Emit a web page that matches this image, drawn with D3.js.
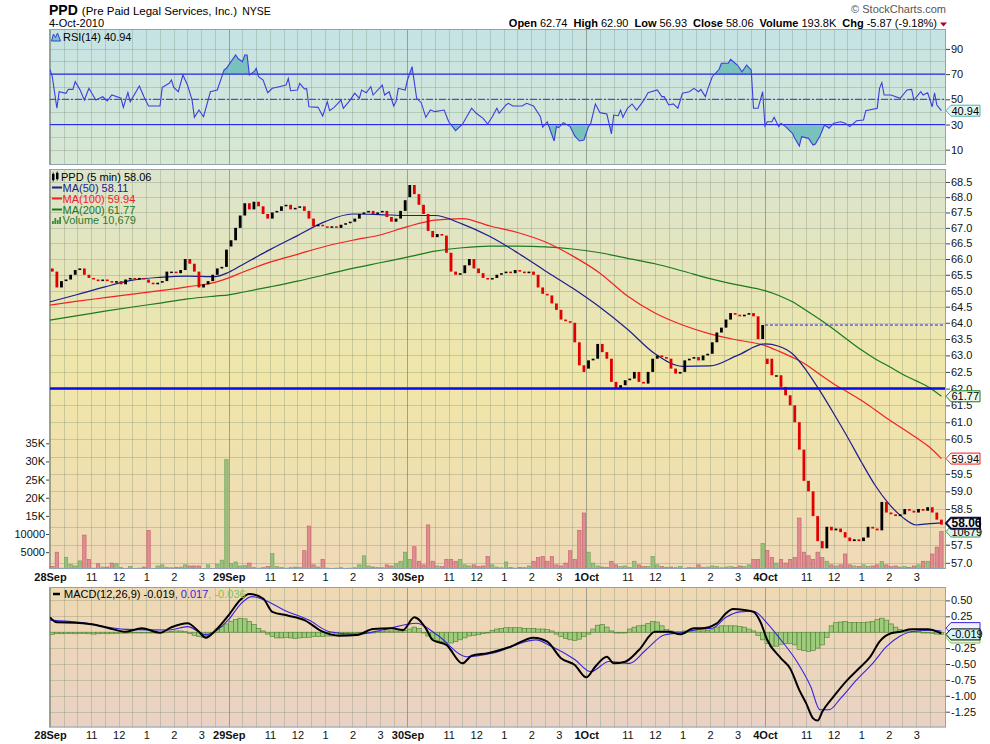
<!DOCTYPE html>
<html>
<head>
<meta charset="utf-8">
<script src="https://cdn.jsdelivr.net/npm/d3@7"></script>
<style>
  body { margin: 0; background: #fff; }
  svg text { font-family: "Liberation Sans", Arial, sans-serif; font-size: 11px; }
</style>
</head>
<body>
<svg id="chart"></svg>
<script>
// ---- data (10-minute slots, 39 per session, 5 sessions) ----
const dayLabels = ["28Sep", "29Sep", "30Sep", "1Oct", "4Oct"];
const hourLabels = ["11", "12", "1", "2", "3"];
const hourBars = [18, 30, 42, 54, 66];          // 5-min bar offsets inside a session
const dayOpen = [65.70, 66.40, 68.00, 62.60, 62.74];

const closes = [
  65.6, 65.1, 65.3, 65.35, 65.5, 65.65, 65.7, 65.5, 65.4, 65.35,
  65.3, 65.35, 65.3, 65.25, 65.3, 65.2, 65.35, 65.4, 65.35, 65.4,
  65.35, 65.25, 65.2, 65.25, 65.3, 65.6, 65.6, 65.55, 65.65, 66.0,
  65.85, 65.6, 65.1, 65.2, 65.3, 65.5, 65.7, 65.75, 66.3,
  66.6, 67.0, 67.4, 67.8, 67.6, 67.85, 67.7, 67.45, 67.3, 67.5,
  67.55, 67.7, 67.75, 67.6, 67.65, 67.7, 67.55, 67.3, 67.05, 67.1,
  67.05, 67.0, 67.05, 67.0, 67.1, 67.15, 67.2, 67.3, 67.45, 67.5,
  67.55, 67.45, 67.5, 67.55, 67.35, 67.2, 67.3, 67.55, 67.9,
  68.4, 68.1, 67.75, 67.45, 66.9, 66.7, 66.8, 66.75, 66.2, 65.6,
  65.5, 65.55, 65.8, 66.0, 65.7, 65.55, 65.4, 65.35, 65.4, 65.5,
  65.55, 65.6, 65.55, 65.65, 65.6, 65.55, 65.6, 65.5, 65.1, 64.9,
  64.85, 64.6, 64.4, 64.1, 64.05, 64.0, 63.4, 62.7, 62.5,
  62.85, 62.9, 63.35, 63.1, 62.9, 62.2, 62.0, 62.1, 62.25, 62.3,
  62.5, 62.2, 62.15, 62.5, 62.9, 63.0, 62.95, 62.9, 62.6, 62.45,
  62.5, 62.85, 62.9, 62.95, 62.85, 63.0, 63.05, 63.4, 63.7, 63.85,
  64.1, 64.3, 64.25, 64.2, 64.25, 64.3, 64.2, 63.5, 63.93,
  62.9, 62.4, 62.4, 62.05, 61.8, 61.5, 61.0, 60.2, 59.3, 59.0,
  58.3, 57.6, 57.4, 58.0, 57.9, 57.95, 57.85, 57.7, 57.6, 57.65,
  57.6, 57.7, 58.0, 57.95, 57.9, 58.7, 58.4, 58.35, 58.3, 58.35,
  58.5, 58.45, 58.4, 58.5, 58.45, 58.55, 58.4, 58.2, 58.06
];

const volumes = [
  1100, 5000, 600, 3600, 1600, 1200, 2600, 9700, 3000, 600,
  1800, 900, 900, 2000, 1800, 700, 500, 1000, 500, 600,
  900, 11000, 500, 1200, 1500, 800, 700, 800, 900, 1500,
  1200, 1200, 1200, 400, 1500, 500, 1600, 2800, 30500,
  1800, 2300, 1200, 1300, 2000, 800, 600, 700, 1000, 4600,
  1000, 800, 600, 700, 900, 800, 5400, 12200, 1500, 900,
  3000, 600, 500, 600, 700, 500, 600, 700, 1500, 4000,
  1200, 900, 800, 700, 1500, 1200, 1800, 2500, 5000,
  3000, 6500, 2500, 1500, 12500, 2500, 1200, 1000, 3000, 3000,
  2500, 3000, 1500, 1200, 1500, 1000, 1200, 3800, 1500, 900,
  700, 2300, 800, 600, 800, 700, 1200, 2500, 3500, 3800,
  2500, 3800, 1500, 1200, 2000, 5400, 3000, 11000, 15800,
  5000, 2000, 1200, 900, 800, 2500, 1500, 1000, 1200, 800,
  2500, 1500, 1000, 1000, 3800, 1500, 1000, 800, 900, 700,
  1000, 600, 800, 700, 1500, 800, 900, 1200, 1000, 700,
  900, 1000, 800, 1200, 1000, 1500, 3000, 3000, 7400,
  5500, 3500, 2000, 3000, 2000, 3000, 3500, 14400, 5000, 4000,
  3000, 5000, 3500, 2500, 1500, 1200, 1500, 4500, 1500, 1200,
  1000, 1500, 1000, 1200, 1500, 2400, 1500, 1000, 1200, 900,
  1000, 800, 1200, 1500, 2500, 2500, 4500, 6400, 10679
];

const histValues = [
  -0.035,
  -0.02, -0.025, -0.02, -0.02, -0.025, -0.02, -0.02, -0.025, -0.03, -0.025, -0.02, -0.025, -0.02, -0.02, -0.015, -0.015,
  -0.01, -0.01, -0.005, -0.01, -0.01, -0.005, 0, -0.005, 0.005,
  0.015, 0.02, 0.02, 0.01,
  -0.02, -0.05, -0.07, -0.085, -0.05,
  0.0, 0.05, 0.09, 0.13, 0.17, 0.2, 0.22, 0.21, 0.17, 0.12, 0.06, 0.02, -0.03, -0.07,
  -0.09, -0.09, -0.08, -0.09, -0.1, -0.09, -0.08, -0.08, -0.07,
  -0.07, -0.07, -0.06, -0.06, -0.05, -0.04,
  -0.03, -0.02, -0.02, -0.01, -0.01, 0, 0, 0.01, 0.01,
  0.02, 0.02, 0.02, 0.02, 0.03, 0.05,
  0.08, 0.06, 0.0, -0.06, -0.1, -0.13, -0.15, -0.16, -0.17, -0.15, -0.12, -0.09, -0.06, -0.05, -0.04, -0.02, 0.0,
  0.03, 0.05, 0.06, 0.07, 0.07, 0.07, 0.07, 0.06, 0.06, 0.06, 0.05, 0.05, 0.04, 0.02,
  -0.03, -0.07, -0.1, -0.12, -0.13, -0.11, -0.07, -0.03, 0.05, 0.11, 0.12, 0.08, 0.02, 0.0, -0.01, 0.0, 0.05, 0.08, 0.1, 0.11, 0.14, 0.17, 0.16, 0.1, 0.04,
  0.02, 0.01, 0.01, 0.02, 0.02, 0.02, 0.02, 0.02, 0.03, 0.05,
  0.08, 0.1, 0.1, 0.1, 0.1, 0.09, 0.08, 0.05, 0.02,
  -0.05, -0.12, -0.18, -0.22, -0.22, -0.19, -0.18, -0.18, -0.2, -0.27, -0.29, -0.3, -0.29, -0.25, -0.2, -0.08,
  0.1, 0.15, 0.16, 0.17, 0.15, 0.15, 0.15, 0.15, 0.16, 0.17, 0.2, 0.22, 0.19, 0.13, 0.08, 0.04, 0.02, 0.02, 0.01, 0.01, 0.0, -0.01, -0.02, -0.03, -0.036
];

// moving averages, read at these 5-min bar indices
const maBars = [0, 12, 24, 36, 48, 60, 72, 78, 84, 96, 108, 120, 132, 144, 156, 168, 180, 192, 204, 216,
  228, 240, 252, 264, 276, 288, 300, 312, 318, 324, 330, 336, 342, 348, 354, 360, 366, 372, 378, 384, 389];
const ma50 = [64.65, 64.88, 65.12, 65.33, 65.42, 65.46, 65.44, 65.58, 65.82, 66.3, 66.75, 67.2, 67.45, 67.43, 67.4, 67.4,
  67.12, 66.72, 66.2, 65.63, 65.08, 64.48, 63.8, 63.05, 62.67, 62.68, 63.0, 63.35, 63.28, 63.05, 62.55, 61.93, 61.26,
  60.57, 59.85, 59.18, 58.65, 58.27, 58.05, 58.09, 58.11];
const ma100 = [64.55, 64.67, 64.78, 64.89, 65.0, 65.12, 65.26, 65.4, 65.58, 65.9, 66.15, 66.4, 66.6, 66.77, 67.04, 67.25,
  67.3, 67.06, 66.85, 66.55, 66.1, 65.55, 64.83, 64.3, 63.93, 63.66, 63.47, 63.3, 63.13, 62.94, 62.72, 62.42, 62.14,
  61.9, 61.65, 61.37, 61.08, 60.82, 60.55, 60.26, 59.94];
const ma200 = [64.08, 64.22, 64.36, 64.49, 64.61, 64.74, 64.83, 64.87, 64.95, 65.12, 65.3, 65.5, 65.7, 65.88, 66.06, 66.25,
  66.36, 66.41, 66.41, 66.39, 66.32, 66.2, 66.02, 65.85, 65.62, 65.38, 65.18, 65.0, 64.85, 64.65, 64.38, 64.1, 63.8,
  63.48, 63.17, 62.9, 62.67, 62.43, 62.23, 62.02, 61.77];

const rsiBars = [0, 1, 3, 4, 7, 8, 10, 11, 13, 15, 17, 20, 23, 25, 27, 31, 32, 34, 35, 39, 41, 43, 48, 49, 52, 53, 54, 56, 58, 60,
  62, 63, 65, 67, 70, 73, 76, 77, 81, 82, 84, 85, 86, 87, 89, 90, 91, 93, 95, 97, 100, 103, 104, 105, 108, 109, 111, 112, 113,
  117, 119, 121, 122, 124, 127, 128, 131, 133, 135, 136, 138, 140, 141, 145, 146, 148, 150, 151, 152, 155, 156, 158, 160,
  162, 164, 166, 168, 172, 174, 177, 180, 184, 186, 189, 191, 193, 195, 196, 199, 200, 202, 206, 208, 211, 214, 215, 217,
  218, 220, 221, 222, 224, 227, 229, 231, 233, 235, 236, 238, 240, 243, 245, 246, 248, 249, 250, 252, 254, 256, 259, 261,
  265, 267, 268, 270, 272, 274, 276, 279, 281, 283, 284, 286, 287, 289, 292, 293, 296, 297, 299, 300, 302, 304, 306, 307,
  309, 311, 312, 313, 315, 316, 318, 319, 321, 324, 325, 327, 328, 331, 333, 334, 336, 338, 340, 342, 345, 347, 349, 352,
  355, 356, 361, 362, 363, 364, 367, 371, 374, 376, 377, 380, 381, 383, 385, 386, 387, 389];
const rsiValues = [73.8, 68, 42.9, 56, 54.8, 57.9, 57.9, 64, 57.9, 49.4, 58.7, 49.4, 52, 48.7, 53.4, 50.8, 43.6, 55.3, 48.1,
  60.6, 52, 44.7, 44.7, 59.5, 62.7, 65.3, 59.5, 56, 69.3, 61.3, 49.4, 35.7, 41.5, 36.2, 56, 57.4, 73.3, 74.6, 85.2, 82.5,
  79.8, 85.2, 85.2, 69.3, 71.9, 74.6, 67.9, 65.3, 55.2, 58.7, 60, 61.3, 66.6, 56.8, 57.4, 62.7, 58.2, 58.5, 44.1, 43.6,
  36.7, 48.1, 41, 43.6, 49.4, 42.9, 49.4, 54.8, 50.8, 57.4, 55.2, 60, 53.4, 61.3, 53.4, 56, 44.7, 48.1, 58.7, 57.4, 65.3,
  75.9, 50.8, 47.3, 35.7, 41.5, 40.2, 41.5, 32.2, 25.1, 30.2, 42.9, 38.9, 34.9, 30.4, 36.2, 42.9, 38.9, 45.5, 46.8, 44.7,
  44.7, 46.8, 44.7, 36.2, 27.8, 32.2, 27, 16.9, 28.3, 27.5, 31.5, 28.3, 20.9, 16.9, 17.7, 28.3, 31, 46.3, 39.4, 38.3,
  22.5, 37.5, 37, 41.5, 35.7, 42.9, 46.3, 41.5, 48.9, 55.2, 57.4, 52.1, 52.1, 45.5, 46.3, 42.9, 54.8, 56, 58.7, 56, 57.9,
  52.1, 57.9, 67.9, 73.8, 78.6, 78.6, 81.7, 78.6, 77.2, 71.9, 77.2, 73.3, 42.9, 42.9, 56, 28.8, 32.2, 32.2, 35.7, 28.3,
  31, 28.3, 23, 19, 12.9, 20.3, 19, 13.7, 14.5, 20.9, 29.6, 27, 31, 32.2, 31, 28.3, 33, 33.6, 41, 42.9, 58.7, 63.2, 53.4,
  53.4, 50.8, 57.4, 57.9, 49.4, 56, 53.4, 55.2, 44.1, 55.2, 45.5, 40.94];

const macdBars = [0, 3, 11, 18, 25, 33, 40, 48, 53, 60, 65, 68, 72, 78, 83, 87, 93, 97, 104, 111, 119, 126, 134, 141, 149,
  154, 159, 164, 167, 173, 180, 184, 191, 201, 211, 217, 223, 229, 234, 238, 243, 246, 251, 257, 264, 270, 275, 281, 284,
  291, 295, 298, 303, 307, 310, 313, 319, 323, 327, 330, 333, 335, 337, 342, 348, 353, 358, 362, 367, 371, 376, 383, 389];
const macdValues = [0.234, 0.156, 0.15, 0.124, 0.071, 0.008, 0.061, -0.008, 0.077, 0.14, 0.008, -0.086, 0.019, 0.27, 0.506,
  0.6, 0.53, 0.32, 0.26, 0.19, 0.008, -0.055, -0.044, 0.05, 0.061, 0.035, 0.234, 0.061, -0.123, -0.2, -0.49, -0.37, -0.33,
  -0.228, -0.086, -0.149, -0.41, -0.516, -0.71, -0.54, -0.385, -0.49, -0.464, -0.28, 0.008, 0.008, -0.033, 0.061, 0.061,
  0.14, 0.297, 0.365, 0.35, 0.32, 0.165, -0.123, -0.41, -0.57, -0.91, -1.12, -1.355, -1.39, -1.25, -1.01, -0.75, -0.57,
  -0.385, -0.149, -0.017, 0.008, 0.046, 0.046, -0.019];
const signalBars = [0, 14, 33, 52, 60, 68, 78, 83, 88, 94, 102, 113, 122, 134, 145, 160, 169, 182, 193, 212, 219, 229, 236,
  244, 253, 260, 268, 275, 283, 289, 295, 301, 307, 313, 319, 326, 332, 336, 340, 345, 352, 359, 365, 371, 378, 385, 389];
const signalValues = [0.19, 0.15, 0.045, 0.035, 0.087, -0.04, 0.2, 0.435, 0.56, 0.5, 0.35, 0.19, 0.008, -0.033, 0.035, 0.14,
  -0.044, -0.385, -0.33, -0.12, -0.226, -0.43, -0.62, -0.46, -0.49, -0.28, -0.044, -0.008, 0.045, 0.061, 0.234, 0.32,
  0.33, 0.14, -0.123, -0.464, -0.857, -1.22, -1.22, -1.04, -0.75, -0.49, -0.228, -0.06, 0.019, 0.03, 0.017];

const priceTicks = [57.0, 57.5, 58.0, 58.5, 59.0, 59.5, 60.0, 60.5, 61.0, 61.5, 62.0, 62.5, 63.0, 63.5, 64.0,
  64.5, 65.0, 65.5, 66.0, 66.5, 67.0, 67.5, 68.0, 68.5];
const volumeTicks = [5000, 10000, 15000, 20000, 25000, 30000, 35000];
const volumeTickLabels = ["5000", "10000", "15K", "20K", "25K", "30K", "35K"];
const rsiTicks = [90, 70, 50, 30, 10];
const rsiGrid = [10, 20, 30, 40, 50, 60, 70, 80, 90];
const macdTicks = [0.5, 0.25, -0.25, -0.5, -0.75, -1.0, -1.25];
const macdGrid = [0.5, 0.25, 0, -0.25, -0.5, -0.75, -1.0, -1.25];

const supportLevel = 62.0;
const prevClose = 63.93;
const lastPrice = 58.06, lastVolume = 10679, lastRsi = 40.94;
const lastMacd = -0.019, lastSignal = 0.017, lastHist = -0.036;
const quote = [["Open", "62.74"], ["High", "62.90"], ["Low", "56.93"], ["Close", "58.06"], ["Volume", "193.8K"], ["Chg", "-5.87 (-9.18%)"]];

// ---- layout ----
const plotL = 49, plotR = 946;
const rsiP = [29, 165], mainP = [169, 569], macdP = [587, 727.5];
const slotsPerDay = 39, barsPerDay = 78;

const svg = d3.select("#chart").attr("width", 990).attr("height", 744);

const x = d3.scaleLinear().domain([0, 390]).range([50, 943.7]);
const yPrice = d3.scaleLog().domain([56.83, 68.93]).range([569, 169]);
const yVol = d3.scaleLinear().domain([0, 35000]).range([570.3, 443.3]);
const yRsi = d3.scaleLinear().domain([0, 100]).range([162.3, 36.3]);
const yMacd = d3.scaleLinear().domain([-1.5, 0.75]).range([727.6, 584.5]);

const defs = svg.append("defs");
function gradient(id, stops) {
  const g = defs.append("linearGradient").attr("id", id).attr("x1", 0).attr("x2", 0).attr("y1", 0).attr("y2", 1);
  stops.forEach(s => g.append("stop").attr("offset", s[0]).attr("stop-color", s[1]));
}
gradient("gRsi", [[0, "#c5e3e4"], [1, "#d8e8d2"]]);
gradient("gMain", [[0, "#dbe4cd"], [0.52, "#f0e6a8"], [1, "#eedab8"]]);
gradient("gMacd", [[0, "#efd9b2"], [1, "#e9d2c4"]]);

function clip(id, p) {
  defs.append("clipPath").attr("id", id).append("rect")
    .attr("x", plotL).attr("y", p[0]).attr("width", plotR - plotL).attr("height", p[1] - p[0]);
}
clip("cRsi", rsiP); clip("cMain", mainP); clip("cMacd", macdP);

const gridBars = d3.range(0, 390, 6);
function panel(p, grad, yScale, levels) {
  svg.append("rect").attr("x", plotL).attr("y", p[0]).attr("width", plotR - plotL).attr("height", p[1] - p[0])
    .attr("fill", `url(#${grad})`);
  const g = svg.append("g");
  g.selectAll(".h").data(levels).join("line")
    .attr("x1", plotL).attr("x2", plotR)
    .attr("y1", d => Math.round(yScale(d)) + 0.5).attr("y2", d => Math.round(yScale(d)) + 0.5)
    .attr("stroke", "rgba(105,125,105,0.28)");
  g.selectAll(".v").data(gridBars).join("line")
    .attr("x1", d => Math.round(x(d)) + 0.5).attr("x2", d => Math.round(x(d)) + 0.5)
    .attr("y1", p[0]).attr("y2", p[1])
    .attr("stroke", d => d % barsPerDay === 0 ? "rgba(95,110,95,0.55)" : "rgba(105,125,105,0.28)");
}
panel(rsiP, "gRsi", yRsi, rsiGrid);
panel(mainP, "gMain", yPrice, priceTicks);
panel(macdP, "gMacd", yMacd, macdGrid);

// ---- candles / volume ----
const slots = closes.map((c, j) => {
  const prev = j === 0 ? dayOpen[0] : closes[j - 1];
  const open = j % slotsPerDay === 0 ? dayOpen[j / slotsPerDay] : prev;
  return { bar: 2 * j + 1, open, close: c, up: c >= prev, vol: volumes[j], hist: histValues[j] };
});

const gMain = svg.append("g").attr("clip-path", "url(#cMain)");
gMain.selectAll(".vol").data(slots).join("rect")
  .attr("x", d => x(d.bar) - 1.7).attr("width", 3.4)
  .attr("y", d => yVol(d.vol)).attr("height", d => yVol(0) - yVol(d.vol))
  .attr("fill", d => d.up ? "#98c27c" : "#df8d92")
  .attr("stroke", d => d.up ? "#6f9d58" : "#c55a66").attr("stroke-width", 0.6);

svg.append("line").attr("x1", plotL).attr("x2", plotR)
  .attr("y1", yPrice(supportLevel)).attr("y2", yPrice(supportLevel))
  .attr("stroke", "#0a0af0").attr("stroke-width", 2.5);
svg.append("line").attr("x1", x(4 * barsPerDay)).attr("x2", plotR)
  .attr("y1", yPrice(prevClose)).attr("y2", yPrice(prevClose))
  .attr("stroke", "#2424ff").attr("stroke-dasharray", "3,2");

const maLine = d3.line().x((d, i) => x(maBars[i])).y(d => yPrice(d)).curve(d3.curveMonotoneX);
[[ma200, "#1b7a1b"], [ma100, "#f22222"], [ma50, "#1c1c8e"]].forEach(([s, c]) => {
  gMain.append("path").attr("d", maLine(s)).attr("fill", "none").attr("stroke", c).attr("stroke-width", 1.2);
});

gMain.selectAll(".candle").data(slots).join("rect")
  .attr("x", d => x(d.bar) - 1.4).attr("width", 2.8)
  .attr("y", d => yPrice(Math.max(d.open, d.close)))
  .attr("height", d => Math.max(1.5, Math.abs(yPrice(d.open) - yPrice(d.close))))
  .attr("fill", d => d.up ? "#000" : "#e00000");

// ---- RSI ----
const gRsi = svg.append("g").attr("clip-path", "url(#cRsi)");
const rsiPts = rsiValues.map((v, i) => ({ bar: rsiBars[i], v }));
defs.append("clipPath").attr("id", "cOver").append("rect")
  .attr("x", plotL).attr("y", rsiP[0]).attr("width", plotR - plotL).attr("height", yRsi(70) - rsiP[0]);
defs.append("clipPath").attr("id", "cUnder").append("rect")
  .attr("x", plotL).attr("y", yRsi(30)).attr("width", plotR - plotL).attr("height", rsiP[1] - yRsi(30));
const areaAt = lvl => d3.area().x(d => x(d.bar)).y0(yRsi(lvl)).y1(d => yRsi(d.v));
gRsi.append("path").attr("d", areaAt(70)(rsiPts)).attr("fill", "#79c1bd").attr("clip-path", "url(#cOver)");
gRsi.append("path").attr("d", areaAt(30)(rsiPts)).attr("fill", "#79c1bd").attr("clip-path", "url(#cUnder)");
[70, 30].forEach(l => gRsi.append("line").attr("x1", plotL).attr("x2", plotR)
  .attr("y1", yRsi(l)).attr("y2", yRsi(l)).attr("stroke", "#2b2be6").attr("stroke-width", 1.2));
gRsi.append("line").attr("x1", plotL).attr("x2", plotR).attr("y1", yRsi(50)).attr("y2", yRsi(50))
  .attr("stroke", "#3030d8").attr("stroke-dasharray", "7,2,2,2");
gRsi.append("path").attr("d", d3.line().x(d => x(d.bar)).y(d => yRsi(d.v))(rsiPts))
  .attr("fill", "none").attr("stroke", "#3d3ddc").attr("stroke-width", 1.1);

// ---- MACD ----
const gMacd = svg.append("g").attr("clip-path", "url(#cMacd)");
gMacd.selectAll(".hist").data(slots).join("rect")
  .attr("x", d => x(d.bar) - 2.29).attr("width", 4.58)
  .attr("y", d => yMacd(Math.max(0, d.hist)))
  .attr("height", d => Math.max(0.8, Math.abs(yMacd(d.hist) - yMacd(0))))
  .attr("fill", "#9fcc7c").attr("stroke", "#4d7d31").attr("stroke-width", 0.6);
const sigLine = d3.line().x((d, i) => x(signalBars[i])).y(d => yMacd(d)).curve(d3.curveMonotoneX);
const macdLine = d3.line().x((d, i) => x(macdBars[i])).y(d => yMacd(d)).curve(d3.curveMonotoneX);
gMacd.append("path").attr("d", sigLine(signalValues)).attr("fill", "none").attr("stroke", "#3a22e0").attr("stroke-width", 1.1);
gMacd.append("path").attr("d", macdLine(macdValues)).attr("fill", "none").attr("stroke", "#000").attr("stroke-width", 2);

// ---- panel borders ----
[rsiP, mainP, macdP].forEach(p => svg.append("rect")
  .attr("x", plotL + 0.5).attr("y", p[0] + 0.5).attr("width", plotR - plotL - 1).attr("height", p[1] - p[0] - 1)
  .attr("fill", "none").attr("stroke", "#8ea4b2"));

// ---- axes ----
// price labels sitting under a value tag are hidden, as on the original
const mainTagY = [yPrice(ma200[ma200.length - 1]), yPrice(ma100[ma100.length - 1]), yPrice(lastPrice), yVol(lastVolume)];
const shownPriceTicks = priceTicks.filter(t => mainTagY.every(v => Math.abs(yPrice(t) - v) > 7));

function tidy(g) {
  g.attr("font-family", null).attr("font-size", null);
  g.select(".domain").remove();
  g.selectAll(".tick line").attr("stroke", "#444");
  g.selectAll(".tick text").attr("fill", "#111");
}
svg.append("g").attr("transform", `translate(${plotR},0)`)
  .call(d3.axisRight(yPrice).tickValues(shownPriceTicks).tickFormat(d3.format(".1f")).tickSize(4).tickPadding(1)).call(tidy);
svg.append("g").attr("transform", `translate(${plotR},0)`)
  .call(d3.axisRight(yRsi).tickValues(rsiTicks).tickSize(4).tickPadding(1)).call(tidy);
svg.append("g").attr("transform", `translate(${plotR},0)`)
  .call(d3.axisRight(yMacd).tickValues(macdTicks).tickFormat(d => d.toFixed(2)).tickSize(4).tickPadding(1)).call(tidy);
svg.append("g").attr("transform", `translate(${plotL},0)`)
  .call(d3.axisLeft(yVol).tickValues(volumeTicks).tickFormat((d, i) => volumeTickLabels[i]).tickSize(3).tickPadding(1)).call(tidy);

const xTicks = [];
dayLabels.forEach((d, k) => {
  xTicks.push({ bar: k * barsPerDay, label: d, day: true });
  hourBars.forEach((h, m) => xTicks.push({ bar: k * barsPerDay + h, label: hourLabels[m], day: false }));
});
[mainP[1], macdP[1]].forEach(yb => {
  const g = svg.append("g").attr("transform", `translate(0,${yb})`)
    .call(d3.axisBottom(x).tickValues(xTicks.map(t => t.bar)).tickFormat((d, i) => xTicks[i].label)
      .tickSize(0).tickPadding(4)).call(tidy);
  g.selectAll(".tick text").attr("font-weight", (d, i) => xTicks[i].day ? "bold" : null)
    .attr("dy", "0.71em");
});

// ---- value tags ----
function tag(yv, text, stroke, fill, bold, sw) {
  const x0 = plotR, h = 11, w = 34;
  svg.append("path")
    .attr("d", `M${x0},${yv} L${x0 + 5},${yv - h / 2} L${x0 + w},${yv - h / 2} L${x0 + w},${yv + h / 2} L${x0 + 5},${yv + h / 2} Z`)
    .attr("fill", fill).attr("stroke", stroke).attr("stroke-width", sw || 1);
  if (text) svg.append("text").attr("x", x0 + 5.5).attr("y", yv + 4).text(text)
    .attr("font-weight", bold ? "bold" : null).style("font-size", bold ? "12px" : "11px");
}
tag(yRsi(lastRsi), lastRsi.toFixed(2), "#4fb3ad", "#e2f5f3");
tag(yPrice(ma200[ma200.length - 1]), ma200[ma200.length - 1].toFixed(2), "#1b7a1b", "#eef7ea");
tag(yPrice(ma100[ma100.length - 1]), ma100[ma100.length - 1].toFixed(2), "#f22222", "#fff6f2");
tag(yVol(lastVolume), String(lastVolume), "#3c9a58", "#dff4ee");
tag(yPrice(lastPrice) - 1.5, lastPrice.toFixed(2), "#101040", "#f4f8ff", true, 2);
// signal and histogram tags sit behind the MACD tag
tag(yMacd(lastHist) + 3, null, "#7cc45a", "#e6f6dc");
tag(yMacd(lastSignal) - 3, null, "#3a22e0", "#eef0ff");
tag(yMacd(lastMacd) + 1, lastMacd.toFixed(3), "#000", "#d8f3f3");

// ---- legends ----
const leg = svg.append("g");
leg.append("path").attr("d", "M51.5,41 L53.5,34 L55.5,37.5 L57.5,33 L60.5,41 Z").attr("fill", "#79c1bd").attr("stroke", "#3d3ddc");
leg.append("text").attr("x", 63).attr("y", 40.5).text(`RSI(14) ${lastRsi.toFixed(2)}`);

leg.append("rect").attr("x", 52).attr("y", 174).attr("width", 2.5).attr("height", 6).attr("fill", "#000");
leg.append("rect").attr("x", 56).attr("y", 173).attr("width", 2.5).attr("height", 6).attr("fill", "#000");
leg.append("line").attr("x1", 53.2).attr("x2", 53.2).attr("y1", 172.5).attr("y2", 181.5).attr("stroke", "#000");
leg.append("line").attr("x1", 57.2).attr("x2", 57.2).attr("y1", 171.5).attr("y2", 180.5).attr("stroke", "#000");
leg.append("text").attr("x", 61).attr("y", 181).text(`PPD (5 min) ${lastPrice.toFixed(2)}`);
[["MA(50) " + ma50[ma50.length - 1].toFixed(2), "#1c1c8e", 191.5],
 ["MA(100) " + ma100[ma100.length - 1].toFixed(2), "#f22222", 202.5],
 ["MA(200) " + ma200[ma200.length - 1].toFixed(2), "#1b7a1b", 213.5]].forEach(([t, c, yb]) => {
  leg.append("line").attr("x1", 52).attr("x2", 62).attr("y1", yb - 4).attr("y2", yb - 4).attr("stroke", c).attr("stroke-width", 2);
  leg.append("text").attr("x", 62.5).attr("y", yb).attr("fill", c).text(t);
});
[3, 6, 4, 7].forEach((hh, k) => leg.append("rect").attr("x", 52 + k * 2.4).attr("y", 224 - hh)
  .attr("width", 1.8).attr("height", hh).attr("fill", "#3c8a3c"));
leg.append("text").attr("x", 62.5).attr("y", 224).attr("fill", "#2e7d2e").text(`Volume ${d3.format(",")(lastVolume)}`);

leg.append("line").attr("x1", 53).attr("x2", 60).attr("y1", 594).attr("y2", 594).attr("stroke", "#000").attr("stroke-width", 2.5);
const mt = leg.append("text").attr("x", 64).attr("y", 597.5);
mt.append("tspan").text(`MACD(12,26,9) ${lastMacd.toFixed(3)}`);
mt.append("tspan").attr("fill", "#3a22e0").text(`, ${lastSignal.toFixed(3)}`);
mt.append("tspan").attr("fill", "#7cc45a").text(`, ${lastHist.toFixed(3)}`);

// ---- header ----
const hd = svg.append("text").attr("x", 49).attr("y", 15);
hd.append("tspan").attr("font-weight", "bold").style("font-size", "14px").text("PPD");
hd.append("tspan").attr("dx", 4).style("font-size", "11.5px").text("(Pre Paid Legal Services, Inc.)");
hd.append("tspan").attr("dx", 5).style("font-size", "10.5px").text("NYSE");
svg.append("text").attr("x", 49).attr("y", 26.5).text("4-Oct-2010");
svg.append("text").attr("x", 946).attr("y", 13).attr("text-anchor", "end").attr("fill", "#555").text("© StockCharts.com");
const qt = svg.append("text").attr("x", 937).attr("y", 26.5).attr("text-anchor", "end");
quote.forEach(([k, v], i) => {
  qt.append("tspan").attr("font-weight", "bold").attr("dx", i ? 6 : 0).text(k);
  qt.append("tspan").attr("dx", 3).text(v);
});
svg.append("path").attr("d", "M940,22.5 L947,22.5 L943.5,26.5 Z").attr("fill", "#b00020");
</script>
</body>
</html>
